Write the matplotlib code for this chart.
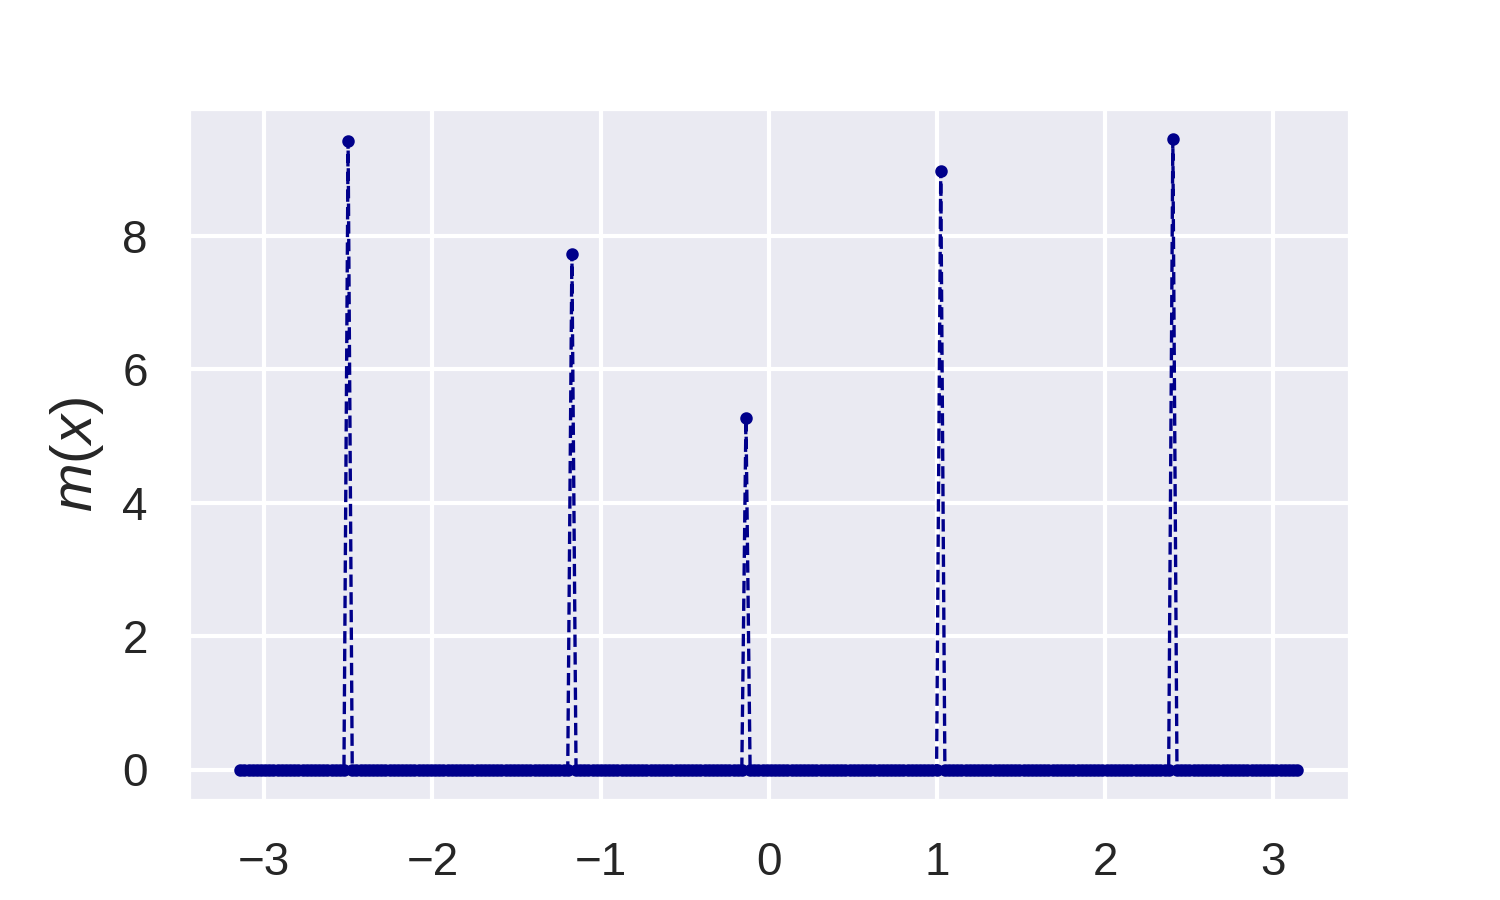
"""
Spike plot of m(x) over [-pi, pi] on a seaborn darkgrid background.
"""
import numpy as np
import matplotlib
matplotlib.use('Agg')
import matplotlib.pyplot as plt
import seaborn as sns

# grid of sample points
n_points = 256
x_min = -np.pi
x_max = np.pi

spike_x = [-2.50, -1.18, -0.13, 1.03, 2.41]
spike_height = [9.42, 7.73, 5.27, 8.97, 9.44]

x = np.linspace(x_min, x_max, n_points)
m = np.zeros(n_points)
for sx, sh in zip(spike_x, spike_height):
    m[np.argmin(np.abs(x - sx))] = sh

sns.set_theme(style='darkgrid')
plt.rcParams['font.family'] = ['Liberation Sans', 'DejaVu Sans']
plt.rcParams['mathtext.fontset'] = 'custom'
plt.rcParams['mathtext.rm'] = 'Liberation Sans'
plt.rcParams['mathtext.it'] = 'Liberation Sans:italic'

fig, ax = plt.subplots(figsize=(5, 3), dpi=300)
ax.plot(x, m, linestyle='--', color='darkblue', linewidth=0.8,
        marker='o', markersize=2.0)
ax.tick_params(labelsize=11)
ax.set_ylabel('$m(x)$', fontsize=14)
# label sits below the canvas, like in the original
ax.set_xlabel('$x$', fontsize=14)
ax.set_yticks([0, 2, 4, 6, 8])

fig.savefig('out.png', dpi=300)
plt.close(fig)
